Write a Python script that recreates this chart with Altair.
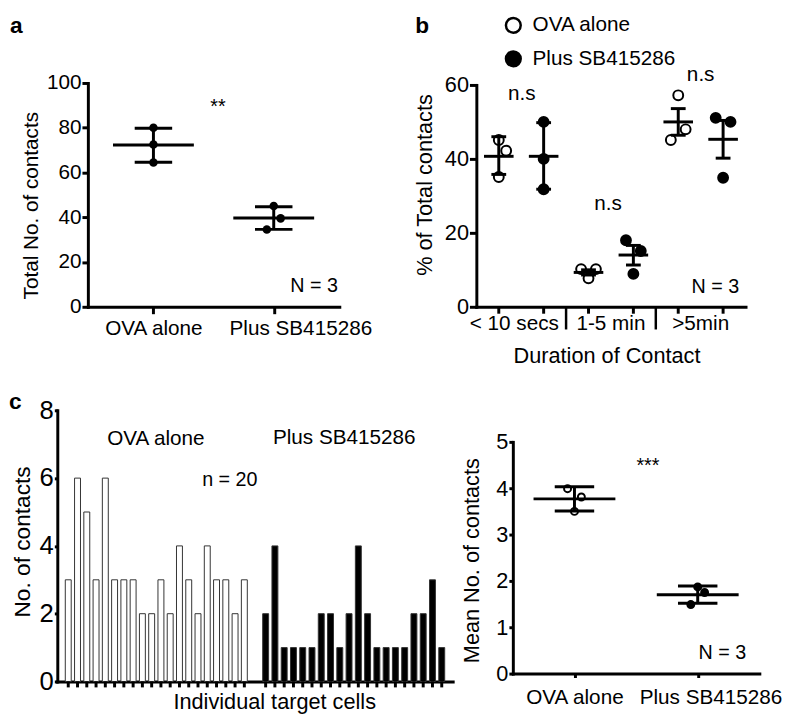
import altair as alt
import pandas as pd

FONT = "Liberation Sans"
BLACK = "black"

groups = ["OVA alone", "Plus SB415286"]

# ---------------- panel a : total number of contacts ----------------
a_ova_values = [80.0, 72.5, 64.5]
a_sb_values = [45.0, 39.5, 34.5]
a_ova_jitter = [0, 0, 0]
a_sb_jitter = [0, 1, -1]
a_means = [72.3, 39.7]
a_err_low = [64.6, 34.6]
a_err_high = [79.8, 44.7]
a_yticks = [0, 20, 40, 60, 80, 100]

# ---------------- panel b : % of total contacts by duration ----------------
durations = ["< 10 secs", "1-5 min", ">5min"]
b_ova_values = [[45.1, 42.2, 35.1], [10.2, 7.7, 10.2], [57.2, 48.0, 45.1]]
b_sb_values = [[50.0, 40.0, 31.8], [18.0, 15.1, 8.9], [51.1, 50.0, 34.9]]
b_ova_jitter = [[0, 1, 0], [-1, 0, 1], [0, 1, -1]]
b_sb_jitter = [[0, 0, 0], [-1, 1, 0], [-1, 1, 0]]
b_ova_means = [40.7, 9.3, 50.0]
b_ova_err_low = [35.8, 8.6, 46.4]
b_ova_err_high = [46.0, 10.0, 53.6]
b_sb_means = [40.7, 14.0, 45.3]
b_sb_err_low = [31.8, 11.3, 40.2]
b_sb_err_high = [49.8, 16.6, 50.4]
b_yticks = [0, 20, 40, 60]

# ---------------- panel c (left) : contacts per target cell ----------------
c_ova_counts = [3, 6, 5, 3, 6, 3, 3, 3, 2, 2, 3, 2, 4, 3, 2, 4, 3, 3, 2, 3]
c_sb_counts = [2, 4, 1, 1, 1, 1, 2, 2, 1, 2, 4, 2, 1, 1, 1, 1, 2, 2, 3, 1]
c_yticks = [0, 2, 4, 6, 8]

# ---------------- panel c (right) : mean number of contacts ----------------
d_ova_values = [3.99, 3.81, 3.50]
d_sb_values = [1.87, 1.75, 1.49]
d_ova_jitter = [-1, 1, 0]
d_sb_jitter = [0, 1, -1]
d_means = [3.77, 1.70]
d_err_low = [3.51, 1.52]
d_err_high = [4.03, 1.89]
d_yticks = [0, 1, 2, 3, 4, 5]

one = pd.DataFrame({"k": [0]})


def note(text, x, y, size=20, weight="normal", align="center"):
    return alt.Chart(one).mark_text(
        text=text, font=FONT, fontSize=size, fontWeight=weight, align=align,
        baseline="alphabetic", color=BLACK
    ).encode(x=alt.value(x), y=alt.value(y))


def frame(x1, x2, y1, y2):
    # invisible box that fixes the extent of a panel inside the layout
    return alt.Chart(one).mark_rect(opacity=0).encode(
        x=alt.value(x1), x2=alt.value(x2), y=alt.value(y1), y2=alt.value(y2))


def yaxis(values, title, tx, ty, lsize, tsize, title_size, offset=0):
    return alt.Axis(values=values, format="d", title=title, titleX=tx, titleY=ty,
                    titleAngle=270, titleAlign="center", titleBaseline="middle",
                    titleFontSize=title_size, labelFontSize=lsize, tickSize=tsize,
                    labelPadding=1, offset=offset)


def shift_label(value, dx):
    return {"condition": {"test": "datum.value === '%s'" % value, "value": dx}, "value": 0}


# ====================== panel a ======================
Wa, Ha = 286, 227
pts_a = pd.DataFrame({
    "group": [groups[0]] * 3 + [groups[1]] * 3,
    "value": a_ova_values + a_sb_values,
    "jit": a_ova_jitter + a_sb_jitter,
})
sum_a = pd.DataFrame({"group": groups, "mean": a_means, "lo": a_err_low, "hi": a_err_high})
xa = alt.X("group:N", sort=groups, title=None,
           scale=alt.Scale(type="point", domain=groups, range=[31, 286], padding=0.545),
           axis=alt.Axis(labelFontSize=21, tickSize=7, labelPadding=4, labelAngle=0,
                         labelOverlap=False, labelOffset=shift_label(groups[1], 27)))
ysa = alt.Scale(domain=[0, 100], nice=False)
yaa = yaxis(a_yticks, "Total No. of contacts", -57, 124, 21, 6, 21, offset=-31)
jit_a = alt.XOffset("jit:Q", scale=alt.Scale(domain=[-1, 1], range=[-7, 7]))

panel_a = alt.layer(
    frame(-49, 343, -70, 302),
    alt.Chart(pts_a).mark_circle(size=75, color=BLACK, opacity=1).encode(
        x=xa, xOffset=jit_a, y=alt.Y("value:Q", scale=ysa, axis=yaa)),
    alt.Chart(sum_a).mark_tick(size=82, thickness=3, color=BLACK, opacity=1).encode(
        x=xa, y=alt.Y("mean:Q", scale=ysa, axis=yaa)),
    alt.Chart(sum_a).mark_tick(size=38, thickness=3, color=BLACK, opacity=1).encode(
        x=xa, y=alt.Y("lo:Q", scale=ysa, axis=yaa)),
    alt.Chart(sum_a).mark_tick(size=38, thickness=3, color=BLACK, opacity=1).encode(
        x=xa, y=alt.Y("hi:Q", scale=ysa, axis=yaa)),
    alt.Chart(sum_a).mark_rule(strokeWidth=3, color=BLACK).encode(
        x=xa, y=alt.Y("lo:Q", scale=ysa, axis=yaa), y2="hi:Q"),
    note("a", -48, -51, size=23, weight="bold", align="left"),
    note("**", 163, 30),
    note("N = 3", 260.5, 212),
).properties(width=Wa, height=Ha)

# ====================== panel b ======================
Wb, Hb = 273, 227
JIT_B = 0.165
rows_p, rows_s = [], []
for gi, (vals, jits, means, los, his) in enumerate([
        (b_ova_values, b_ova_jitter, b_ova_means, b_ova_err_low, b_ova_err_high),
        (b_sb_values, b_sb_jitter, b_sb_means, b_sb_err_low, b_sb_err_high)]):
    for di, d in enumerate(durations):
        for v, j in zip(vals[di], jits[di]):
            rows_p.append({"duration": d, "group": groups[gi], "value": v, "off": gi + j * JIT_B})
        rows_s.append({"duration": d, "group": groups[gi], "mean": means[di],
                       "lo": los[di], "hi": his[di], "off": gi})
pts_b = pd.DataFrame(rows_p)
sum_b = pd.DataFrame(rows_s)
sep_b = pd.DataFrame({"duration": durations[1:]})

xsb = alt.Scale(domain=durations, paddingInner=0, paddingOuter=0)
xab = alt.Axis(ticks=False, labelFontSize=21, labelPadding=6, labelAngle=0,
               labelOffset=shift_label(durations[0], -7),
               title="Duration of Contact", titleFontSize=22, titleX=132, titleY=50,
               titleBaseline="middle", titleAlign="center")
xb = alt.X("duration:N", sort=durations, scale=xsb, axis=xab)
xob = alt.XOffset("off:Q", scale=alt.Scale(domain=[-0.5, 1.5], range=[0, 91]))
ysb = alt.Scale(domain=[0, 60], nice=False, range=[227, 2])
yab = yaxis(b_yticks, "% of Total contacts", -52, 103, 22, 7, 22)
fill_b = alt.Fill("group:N", title=None,
                  scale=alt.Scale(domain=groups, range=["white", "black"]),
                  legend=alt.Legend(orient="none", legendX=27, legendY=-69,
                                    symbolType="circle", symbolSize=225,
                                    symbolStrokeColor=BLACK, symbolStrokeWidth=2.5,
                                    labelFontSize=21, labelFont=FONT, labelColor=BLACK,
                                    labelOffset=9, rowPadding=9, padding=0))

panel_b = alt.layer(
    frame(-80, 302, -70, 302),
    alt.Chart(pts_b).mark_circle(size=100, stroke=BLACK, strokeWidth=2, opacity=1).encode(
        x=xb, xOffset=xob, y=alt.Y("value:Q", scale=ysb, axis=yab), fill=fill_b),
    alt.Chart(sum_b).mark_tick(size=30, thickness=3, color=BLACK, opacity=1).encode(
        x=xb, xOffset=xob, y=alt.Y("mean:Q", scale=ysb, axis=yab)),
    alt.Chart(sum_b).mark_tick(size=15, thickness=3, color=BLACK, opacity=1).encode(
        x=xb, xOffset=xob, y=alt.Y("lo:Q", scale=ysb, axis=yab)),
    alt.Chart(sum_b).mark_tick(size=15, thickness=3, color=BLACK, opacity=1).encode(
        x=xb, xOffset=xob, y=alt.Y("hi:Q", scale=ysb, axis=yab)),
    alt.Chart(sum_b).mark_rule(strokeWidth=3, color=BLACK).encode(
        x=xb, xOffset=xob, y=alt.Y("lo:Q", scale=ysb, axis=yab), y2="hi:Q"),
    alt.Chart(sum_b).mark_rule(strokeWidth=3, color=BLACK).encode(
        x=xb, xOffset=xob, y=alt.value(Hb), y2=alt.value(Hb + 7)),
    alt.Chart(sep_b).mark_rule(strokeWidth=2.5, color=BLACK).encode(
        x=alt.X("duration:N", sort=durations, bandPosition=0, scale=xsb, axis=xab),
        y=alt.value(Hb), y2=alt.value(Hb + 23)),
    note("b", -62, -51, size=23, weight="bold", align="left"),
    note("n.s", 46, 17, size=21),
    note("n.s", 133.5, 129, size=21),
    note("n.s", 227.5, -2, size=21),
    note("N = 3", 242.5, 213),
).properties(width=Wb, height=Hb)

# ====================== panel c left ======================
Wc, Hc = 401, 275
bars_c = pd.DataFrame({
    "group": [groups[0]] * len(c_ova_counts) + [groups[1]] * len(c_sb_counts),
    "cell": list(range(1, len(c_ova_counts) + 1)) + list(range(1, len(c_sb_counts) + 1)),
    "count": c_ova_counts + c_sb_counts,
})
xc = alt.X("group:N", sort=groups,
           scale=alt.Scale(domain=groups, paddingInner=0.061, paddingOuter=0.032),
           axis=alt.Axis(labels=False, ticks=False, title="Individual target cells",
                         titleFontSize=22, titleX=220, titleY=20,
                         titleBaseline="middle", titleAlign="center"))
xoc = alt.XOffset("cell:O", scale=alt.Scale(paddingInner=0.36, paddingOuter=0.18))
ysc = alt.Scale(domain=[0, 8], nice=False)
yac = yaxis(c_yticks, "No. of contacts", -35, 133, 26, 3, 23)

panel_c = alt.layer(
    frame(-49, 408, -28, 306),
    alt.Chart(bars_c).mark_bar(stroke="#333333", strokeWidth=1, opacity=1).encode(
        x=xc, xOffset=xoc, y=alt.Y("count:Q", scale=ysc, axis=yac),
        fill=alt.Fill("group:N", scale=alt.Scale(domain=groups, range=["white", "black"]),
                      legend=None)),
    alt.Chart(bars_c).mark_rule(strokeWidth=3, color=BLACK).encode(
        x=xc, xOffset=xoc, y=alt.value(Hc), y2=alt.value(Hc + 6)),
    note("c", -49, -1, size=23, weight="bold", align="left"),
    note("OVA alone", 100, 35, size=21),
    note("Plus SB415286", 291, 34, size=21),
    note("n = 20", 175, 77, size=20),
).properties(width=Wc, height=Hc)

# ====================== panel c right ======================
Wd, Hd = 250, 267
pts_d = pd.DataFrame({
    "group": [groups[0]] * 3 + [groups[1]] * 3,
    "value": d_ova_values + d_sb_values,
    "jit": d_ova_jitter + d_sb_jitter,
})
sum_d = pd.DataFrame({"group": groups, "mean": d_means, "lo": d_err_low, "hi": d_err_high})
xd = alt.X("group:N", sort=groups, title=None,
           scale=alt.Scale(type="point", domain=groups, padding=0.5),
           axis=alt.Axis(labelFontSize=21, tickSize=4, labelPadding=9, labelAngle=0,
                         labelOverlap=False, labelOffset=shift_label(groups[1], 13)))
ysd = alt.Scale(domain=[0, 5], nice=False, range=[267, 32])
yad = yaxis(d_yticks, "Mean No. of contacts", -41.5, 152, 22, 4, 22)
jit_d = alt.XOffset("jit:Q", scale=alt.Scale(domain=[-1, 1], range=[-7, 7]))

panel_d = alt.layer(
    frame(-45, 272, -28, 306),
    alt.Chart(pts_d).mark_circle(size=50, stroke=BLACK, strokeWidth=2, opacity=1).encode(
        x=xd, xOffset=jit_d, y=alt.Y("value:Q", scale=ysd, axis=yad),
        fill=alt.Fill("group:N", scale=alt.Scale(domain=groups, range=["white", "black"]),
                      legend=None)),
    alt.Chart(sum_d).mark_tick(size=83, thickness=3, color=BLACK, opacity=1).encode(
        x=xd, y=alt.Y("mean:Q", scale=ysd, axis=yad)),
    alt.Chart(sum_d).mark_tick(size=40, thickness=3, color=BLACK, opacity=1).encode(
        x=xd, y=alt.Y("lo:Q", scale=ysd, axis=yad)),
    alt.Chart(sum_d).mark_tick(size=40, thickness=3, color=BLACK, opacity=1).encode(
        x=xd, y=alt.Y("hi:Q", scale=ysd, axis=yad)),
    alt.Chart(sum_d).mark_rule(strokeWidth=3, color=BLACK).encode(
        x=xd, y=alt.Y("lo:Q", scale=ysd, axis=yad), y2="hi:Q"),
    note("***", 137, 62.5),
    note("N = 3", 212.5, 252),
).properties(width=Wd, height=Hd)

RES = dict(xOffset="independent", fill="independent")
row1 = alt.hconcat(panel_a, panel_b, spacing=0).resolve_scale(**RES)
row2 = alt.hconcat(panel_c, panel_d, spacing=0).resolve_scale(**RES)

chart = alt.vconcat(row1, row2, spacing=0).resolve_scale(**RES).properties(
    padding=0
).configure(font=FONT).configure_view(stroke="transparent").configure_axis(
    domainColor=BLACK, domainWidth=3, domainCap="square", tickColor=BLACK, tickWidth=3,
    labelColor=BLACK, titleColor=BLACK, titleFontWeight="normal",
    labelFont=FONT, titleFont=FONT, grid=False
)

chart.save("out.html", embed_options={"renderer": "svg", "actions": False})
